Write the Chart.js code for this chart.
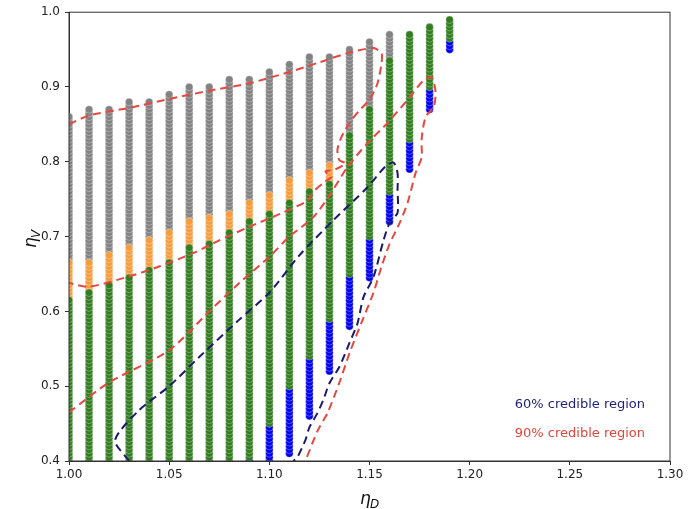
<!DOCTYPE html>
<html>
<head>
<meta charset="utf-8">
<script src="https://cdn.jsdelivr.net/npm/chart.js@4.4.1/dist/chart.umd.min.js"></script>
<style>
  html, body { margin: 0; padding: 0; background: #fff; }
</style>
</head>
<body>
<canvas id="c" width="689" height="509"></canvas>
<script>
// ---------------- DATA ----------------
// grid columns (eta_D) and the extent / colour bands of each column (eta_V)
const xCols     = [1.00, 1.01, 1.02, 1.03, 1.04, 1.05, 1.06, 1.07, 1.08, 1.09, 1.10, 1.11, 1.12, 1.13, 1.14, 1.15, 1.16, 1.17, 1.18, 1.19];
const colBottom = [0.40, 0.40, 0.40, 0.40, 0.40, 0.40, 0.40, 0.40, 0.40, 0.40, 0.40, 0.41, 0.46, 0.52, 0.58, 0.645, 0.72, 0.79, 0.87, 0.95];
const blueTop   = [null, null, null, null, null, null, null, null, null, 0.40, 0.445, 0.495, 0.535, 0.585, 0.645, 0.695, 0.755, 0.825, 0.895, 0.96];
const greenTop  = [0.615, 0.625, 0.635, 0.645, 0.655, 0.665, 0.685, 0.69, 0.705, 0.72, 0.73, 0.745, 0.76, 0.77, 0.835, 0.87, 0.935, 0.97, 0.98, 0.99];
const orangeTop = [0.665, 0.665, 0.675, 0.685, 0.695, 0.705, 0.72, 0.725, 0.73, 0.745, 0.755, 0.775, 0.785, 0.795, null, null, null, null, null, null];
const colTop    = [0.86, 0.87, 0.87, 0.88, 0.88, 0.89, 0.90, 0.90, 0.91, 0.91, 0.92, 0.93, 0.94, 0.94, 0.95, 0.96, 0.97, 0.97, 0.98, 0.99];

// contours
const c60 = [[1.03,0.40],[1.023,0.428],[1.035,0.468],[1.05,0.50],[1.065,0.539],[1.085,0.589],[1.10,0.625],
  [1.115,0.675],[1.132,0.722],[1.149,0.766],[1.158,0.794],[1.162,0.799],[1.164,0.785],[1.164,0.762],[1.164,0.732],
  [1.160,0.718],[1.157,0.695],[1.152,0.646],[1.147,0.619],[1.144,0.584],[1.140,0.558],[1.135,0.526],[1.130,0.504],
  [1.127,0.482],[1.124,0.464],[1.120,0.445],[1.118,0.428],[1.114,0.405],[1.112,0.40]];
const c90a = [[1.00,0.85],[1.01,0.862],[1.03,0.872],[1.05,0.884],[1.07,0.895],[1.09,0.905],[1.11,0.92],[1.125,0.933],
  [1.14,0.946],[1.152,0.952],[1.156,0.945],[1.156,0.932],[1.154,0.905],[1.150,0.883],[1.145,0.869],[1.140,0.852],
  [1.136,0.833],[1.134,0.816],[1.135,0.802],[1.138,0.798],[1.133,0.790],[1.128,0.787],[1.131,0.780],[1.127,0.772],
  [1.122,0.760],[1.119,0.748],[1.105,0.730],[1.089,0.712],[1.075,0.695],[1.062,0.678],[1.045,0.660],[1.029,0.646],
  [1.01,0.633],[1.00,0.638]];
const c90b = [[1.00,0.465],[1.02,0.505],[1.05,0.548],[1.07,0.60],[1.085,0.638],[1.10,0.673],[1.11,0.70],[1.122,0.726],
  [1.13,0.755],[1.139,0.793],[1.149,0.825],[1.159,0.852],[1.169,0.883],[1.177,0.909],[1.181,0.913],[1.183,0.893],
  [1.182,0.873],[1.178,0.86],[1.176,0.83],[1.176,0.806],[1.173,0.785],[1.169,0.745],[1.165,0.718],[1.160,0.69],
  [1.156,0.66],[1.152,0.625],[1.146,0.585],[1.140,0.544],[1.135,0.505],[1.129,0.464],[1.124,0.44],[1.118,0.40]];

const xTicks = [1.00, 1.05, 1.10, 1.15, 1.20, 1.25, 1.30];
const yTicks = [0.4, 0.5, 0.6, 0.7, 0.8, 0.9, 1.0];

// ---------------- BUILD POINTS ----------------
let green = [], blue = [], orange = [], grey = [];
xCols.forEach((x, i) => {
    let k0 = Math.round(colBottom[i] * 200), k1 = Math.round(colTop[i] * 200);
    for (let k = k0; k <= k1; k++) {
        let y = k / 200;
        let p = { x: x, y: y };
        if (blueTop[i] !== null && y <= blueTop[i] + 1e-9) blue.push(p);
        else if (y <= greenTop[i] + 1e-9) green.push(p);
        else if (orangeTop[i] !== null && y <= orangeTop[i] + 1e-9) orange.push(p);
        else grey.push(p);
    }
});
const toXY = arr => arr.map(a => ({ x: a[0], y: a[1] }));

function dots(data, color) {
    return { type: "scatter", data: data, order: 2, pointRadius: 3.8, pointBorderWidth: 0.8,
             pointBorderColor: "rgba(255,255,255,0.4)",
             pointBackgroundColor: color, pointHoverRadius: 3.8 };
}
function contour(data, color) {
    return { type: "scatter", data: toXY(data), order: 1, showLine: true, borderColor: color,
             borderWidth: 2, borderDash: [8, 5], pointRadius: 0, tension: 0.25, fill: false };
}

// ---------------- EXTRA DRAWING ----------------
const decor = {
    id: "decor",
    afterDraw(chart) {
        const ctx = chart.ctx, a = chart.chartArea;
        ctx.save();
        ctx.strokeStyle = "#333";
        ctx.lineWidth = 1;
        ctx.strokeRect(a.left, a.top, a.right - a.left, a.bottom - a.top);

        ctx.font = "13px 'DejaVu Sans'";
        ctx.textAlign = "right";
        ctx.textBaseline = "middle";
        ctx.fillStyle = "#1f1f78";
        ctx.fillText("60% credible region", a.right - 25, a.bottom - 56);
        ctx.fillStyle = "#e0463c";
        ctx.fillText("90% credible region", a.right - 25, a.bottom - 27);

        // axis titles
        ctx.fillStyle = "#111";
        ctx.textAlign = "left";
        ctx.textBaseline = "alphabetic";
        ctx.font = "italic 17px 'DejaVu Sans'";
        ctx.fillText("\u03b7", 360, 504);
        ctx.font = "italic 12px 'DejaVu Sans'";
        ctx.fillText("D", 370, 508);

        ctx.translate(36, 240);
        ctx.rotate(-Math.PI / 2);
        ctx.font = "italic 17px 'DejaVu Sans'";
        ctx.fillText("\u03b7", -8, 0);
        ctx.font = "italic 12px 'DejaVu Sans'";
        ctx.fillText("V", 2, 4);
        ctx.restore();
    }
};

// ---------------- CHART ----------------
new Chart(document.getElementById("c"), {
    type: "scatter",
    data: {
        datasets: [
            contour(c60, "#1a1a6e"),
            contour(c90a, "#e8473f"),
            contour(c90b, "#e8473f"),
            dots(green, "#327d20"),
            dots(blue, "#0000f0"),
            dots(orange, "#f59c3e"),
            dots(grey, "#828282")
        ]
    },
    options: {
        responsive: false,
        animation: false,
        events: [],
        layout: { padding: { top: 12, right: 19, left: 0, bottom: 0 } },
        plugins: { legend: { display: false }, tooltip: { enabled: false } },
        scales: {
            x: {
                type: "linear", min: 1.0, max: 1.3,
                afterBuildTicks: s => { s.ticks = xTicks.map(v => ({ value: v })); },
                afterFit: s => { s.height = 48; },
                ticks: { callback: v => v.toFixed(2), color: "#222", font: { family: "DejaVu Sans", size: 12 }, padding: 3, maxRotation: 0 },
                grid: { drawOnChartArea: false, drawTicks: true, tickLength: 4, color: "#333" },
                border: { display: true, color: "#333" }
            },
            y: {
                type: "linear", min: 0.4, max: 1.0,
                afterBuildTicks: s => { s.ticks = yTicks.map(v => ({ value: v })); },
                afterFit: s => { s.width = 69; },
                ticks: { callback: v => v.toFixed(1), color: "#222", font: { family: "DejaVu Sans", size: 12 }, padding: 5 },
                grid: { drawOnChartArea: false, drawTicks: true, tickLength: 4, color: "#333" },
                border: { display: true, color: "#333" }
            }
        }
    },
    plugins: [decor]
});
</script>
</body>
</html>
